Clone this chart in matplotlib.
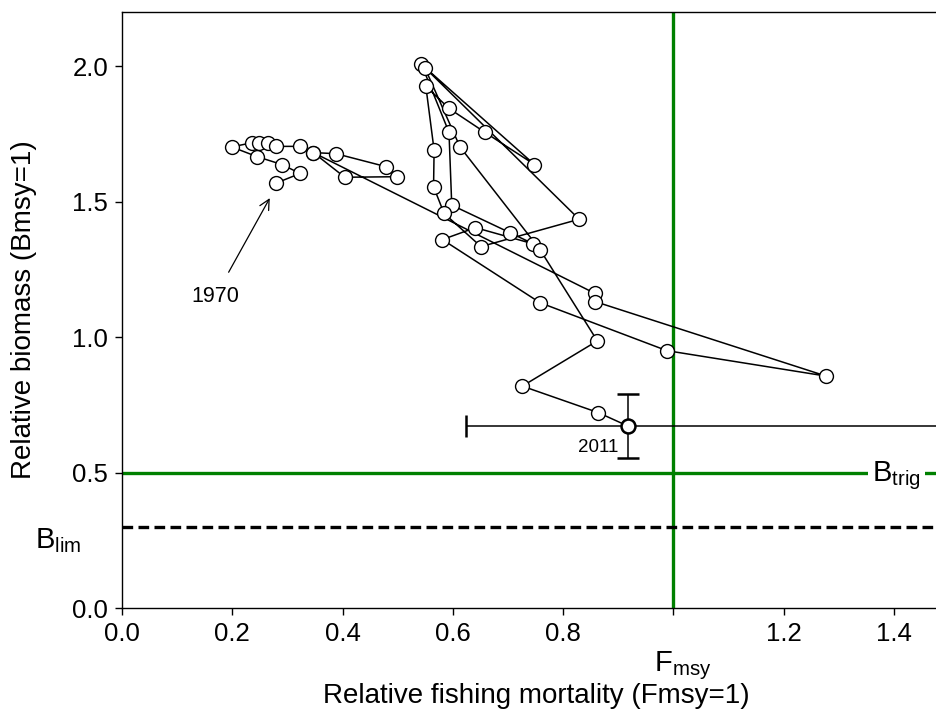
import matplotlib
matplotlib.use("Agg")
import matplotlib.pyplot as plt
from matplotlib.transforms import blended_transform_factory

plt.rcParams['font.family'] = ['Liberation Sans', 'DejaVu Sans']
plt.rcParams['mathtext.fontset'] = 'custom'
plt.rcParams['mathtext.rm'] = 'Liberation Sans'
plt.rcParams['mathtext.it'] = 'Liberation Sans'

# Trajectory (relative F, relative B), 1970 -> 2011
rel_f = [0.279, 0.323, 0.290, 0.245, 0.199, 0.235, 0.249, 0.264, 0.279, 0.323,
         0.347, 0.388, 0.479, 0.498, 0.404, 0.347, 0.858, 0.858, 1.277, 0.988,
         0.758, 0.581, 0.641, 0.746, 0.704, 0.598, 0.593, 0.543, 0.748, 0.658,
         0.593, 0.551, 0.566, 0.565, 0.584, 0.651, 0.829, 0.549, 0.613, 0.758,
         0.862, 0.726, 0.864, 0.917]
rel_b = [1.568, 1.604, 1.637, 1.666, 1.702, 1.717, 1.715, 1.717, 1.704, 1.704,
         1.681, 1.677, 1.629, 1.592, 1.590, 1.681, 1.161, 1.131, 0.856, 0.950,
         1.127, 1.360, 1.404, 1.344, 1.385, 1.487, 1.756, 2.007, 1.637, 1.756,
         1.844, 1.926, 1.690, 1.555, 1.457, 1.334, 1.435, 1.995, 1.702, 1.323,
         0.986, 0.819, 0.721, 0.672]

# Last-year estimate and its uncertainty
last_f, last_b = 0.917, 0.672
f_low, f_high = 0.623, 1.60
b_low, b_high = 0.553, 0.789

f_msy = 1.0
b_trig = 0.5
b_lim = 0.3

xticks = [0.0, 0.2, 0.4, 0.6, 0.8, 1.0, 1.2, 1.4]
xticklabels = ['0.0', '0.2', '0.4', '0.6', '0.8', '', '1.2', '1.4']
yticks = [0.0, 0.5, 1.0, 1.5, 2.0]

fig = plt.figure(figsize=(9.37, 7.16), dpi=100)
ax = fig.add_axes([122/937, 108/716, 1 - 122/937, 596/716])
ax.set_xlim(0, 1.478)
ax.set_ylim(0, 2.2)

green = '#008000'
ax.axvline(f_msy, color=green, lw=2.4, zorder=2)
ax.axhline(b_trig, color=green, lw=2.4, zorder=2)
ax.axhline(b_lim, color='black', lw=2.4, ls=(0, (3.2, 1.6)), zorder=2)

ax.plot(rel_f, rel_b, '-', color='black', lw=1.1, marker='o', ms=10,
        mfc='white', mec='black', mew=1.0, zorder=4)

ax.errorbar([last_f], [last_b],
            xerr=[[last_f - f_low], [f_high - last_f]],
            yerr=[[last_b - b_low], [b_high - last_b]],
            fmt='o', ms=10, mfc='white', mec='black', mew=1.8,
            ecolor='black', elinewidth=1.1, capsize=8, capthick=1.1, zorder=5)

fs_tick = 18.5
ax.set_xticks(xticks)
ax.set_xticklabels(xticklabels)
ax.set_yticks(yticks)
ax.set_yticklabels([f'{v:.1f}' for v in yticks])
ax.tick_params(labelsize=fs_tick, direction='out', length=5, width=1, pad=5)

for s in ['left', 'top', 'bottom']:
    ax.spines[s].set_linewidth(1.0)
ax.spines['right'].set_visible(False)

ax.set_xlabel('Relative fishing mortality (Fmsy=1)', fontsize=20, va='center')
ax.xaxis.set_label_coords(0.508, -0.148)
ax.set_ylabel('Relative biomass (Bmsy=1)', fontsize=20, va='center')
ax.yaxis.set_label_coords(-0.120, 0.5)

ax.text(1.405, 0.49, r'$\mathregular{B_{trig}}$', fontsize=21, ha='center',
        va='center', zorder=6,
        bbox=dict(boxstyle='square,pad=0.15', fc='white', ec='none'))
ax.text(-0.157, 0.25, r'$\mathregular{B_{lim}}$', fontsize=21, ha='left',
        va='center', clip_on=False)
trans = blended_transform_factory(ax.transData, ax.transAxes)
ax.text(0.965, -0.097, r'$\mathregular{F_{msy}}$', fontsize=21, ha='left',
        va='center', transform=trans, clip_on=False)

ax.annotate('1970', xy=(0.268, 1.513), xytext=(0.169, 1.15),
            fontsize=15.5, ha='center', va='center',
            arrowprops=dict(arrowstyle='->', color='black', lw=0.9,
                            shrinkA=9, shrinkB=0, mutation_scale=18))
ax.text(0.863, 0.594, '2011', fontsize=13.5, ha='center', va='center')

fig.savefig('out.png', dpi=100)
